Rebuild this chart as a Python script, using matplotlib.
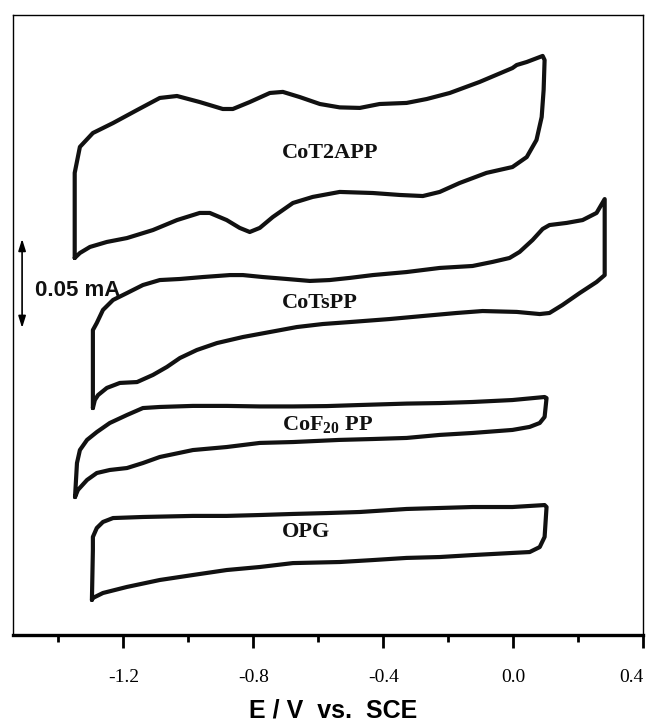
import numpy as np
import matplotlib
matplotlib.use("Agg")
import matplotlib.pyplot as plt
from matplotlib.ticker import FixedLocator

plt.rcParams['mathtext.fontset'] = 'custom'
plt.rcParams['mathtext.rm'] = 'Liberation Serif:bold'
plt.rcParams['mathtext.it'] = 'Liberation Serif:bold'
plt.rcParams['mathtext.bf'] = 'Liberation Serif:bold'

# potentials (V vs SCE) and currents (uA, stacked with offsets)
E_t2app = [-1.350, -1.350, -1.334, -1.294, -1.232, -1.158, -1.088, -1.035, -0.965, -0.894,
           -0.863, -0.811, -0.749, -0.709, -0.657, -0.595, -0.534, -0.472, -0.411, -0.328,
           -0.266, -0.195, -0.103, -0.002, 0.011, 0.042, 0.091, 0.097, 0.094, 0.088,
           0.072, 0.042, -0.002, -0.082, -0.165, -0.226, -0.278, -0.349, -0.432, -0.534,
           -0.617, -0.678, -0.740, -0.780, -0.811, -0.842, -0.882, -0.934, -0.965, -1.035,
           -1.109, -1.189, -1.251, -1.303, -1.334, -1.350]
I_t2app = [211.8, 259.6, 274.2, 282.0, 287.6, 294.9, 301.7, 302.8, 299.4, 295.5,
           295.5, 299.4, 304.5, 305.1, 302.2, 298.3, 296.4, 296.1, 298.3, 298.9,
           301.1, 304.5, 310.7, 318.5, 320.2, 321.9, 325.3, 323.0, 306.2, 291.0,
           278.1, 268.5, 262.9, 259.6, 253.9, 248.9, 246.6, 247.2, 248.3, 248.9,
           246.1, 242.7, 234.8, 228.7, 226.4, 228.7, 233.1, 237.1, 237.1, 233.1,
           227.5, 223.0, 220.8, 218.0, 214.6, 211.8]

E_tspp = [-1.294, -1.294, -1.282, -1.263, -1.232, -1.189, -1.140, -1.088, -1.026, -0.955,
          -0.872, -0.832, -0.771, -0.697, -0.626, -0.565, -0.503, -0.432, -0.328, -0.226,
          -0.125, -0.063, -0.011, 0.020, 0.060, 0.091, 0.112, 0.165, 0.214, 0.257,
          0.282, 0.282, 0.257, 0.205, 0.152, 0.112, 0.082, 0.011, -0.094, -0.174,
          -0.278, -0.380, -0.503, -0.586, -0.666, -0.749, -0.832, -0.912, -0.974, -1.026,
          -1.066, -1.109, -1.158, -1.211, -1.251, -1.278, -1.288, -1.294]
I_tspp = [127.5, 171.3, 175.3, 182.6, 188.2, 192.1, 196.6, 199.4, 200.0, 201.1,
          202.2, 202.2, 201.1, 200.0, 198.9, 199.4, 200.6, 202.2, 203.9, 206.2,
          207.3, 209.6, 211.8, 215.2, 221.9, 228.1, 230.3, 231.5, 233.1, 237.1,
          244.9, 202.2, 198.3, 192.1, 185.4, 180.9, 180.3, 181.5, 182.0, 180.9,
          179.2, 177.5, 175.8, 174.7, 173.0, 170.2, 167.4, 164.0, 160.1, 155.6,
          150.6, 146.1, 142.1, 141.6, 138.8, 134.8, 132.0, 127.5]

E_f20pp = [-1.349, -1.343, -1.334, -1.312, -1.282, -1.242, -1.189, -1.140, -1.088, -0.986,
           -0.882, -0.780, -0.678, -0.574, -0.472, -0.328, -0.226, -0.125, -0.002, 0.097,
           0.103, 0.097, 0.082, 0.051, -0.002, -0.125, -0.226, -0.328, -0.432, -0.534,
           -0.678, -0.780, -0.882, -0.986, -1.088, -1.140, -1.189, -1.242, -1.282, -1.312,
           -1.340, -1.349]
I_f20pp = [77.5, 96.6, 103.9, 109.6, 114.0, 119.1, 123.6, 127.5, 128.1, 128.7,
           128.7, 128.4, 128.4, 128.6, 129.2, 130.0, 130.3, 130.9, 132.0, 133.7,
           133.1, 122.5, 119.1, 116.9, 115.2, 113.5, 112.4, 110.7, 110.1, 109.6,
           108.4, 107.9, 105.6, 103.9, 100.0, 96.6, 93.8, 92.7, 91.0, 87.1,
           81.5, 77.5]

E_opg = [-1.297, -1.294, -1.294, -1.282, -1.263, -1.232, -1.140, -0.986, -0.882, -0.780,
         -0.678, -0.574, -0.472, -0.328, -0.125, -0.002, 0.097, 0.103, 0.097, 0.082,
         0.051, -0.002, -0.125, -0.226, -0.328, -0.432, -0.534, -0.678, -0.780, -0.882,
         -0.986, -1.088, -1.189, -1.263, -1.294, -1.297]
I_opg = [19.7, 47.8, 55.1, 60.1, 63.5, 65.7, 66.3, 66.9, 66.9, 67.4,
         68.0, 68.5, 69.1, 70.8, 71.9, 71.9, 73.0, 71.9, 55.1, 49.4,
         46.6, 46.1, 44.9, 43.8, 43.3, 42.1, 41.0, 40.4, 38.2, 36.5,
         33.7, 30.9, 27.0, 23.6, 20.8, 19.7]

curves = [(E_t2app, I_t2app), (E_tspp, I_tspp), (E_f20pp, I_f20pp), (E_opg, I_opg)]
names = ['CoT2APP', 'CoTsPP', 'CoF$_{20}$ PP', 'OPG']
name_y = [270.8, 186.5, 118.0, 57.9]

major_ticks = [-1.2, -0.8, -0.4, 0.0, 0.4]
minor_ticks = [-1.4, -1.0, -0.6, -0.2, 0.2]
tick_labels = ['-1.2', '-0.8', '-0.4', '0.0', '0.4']

scale_ua = 50.0  # 0.05 mA

fig = plt.figure(figsize=(6.48, 7.23), dpi=100)
ax = fig.add_axes([13 / 648, 88 / 723, 630 / 648, 620 / 723])

for E, I in curves:
    ax.plot(E, I, color='#111111', lw=3.0, solid_joinstyle='round', solid_capstyle='round')

for name, y in zip(names, name_y):
    ax.text(-0.712, y, name, ha='left', va='center', fontsize=16,
            family='Liberation Serif', weight='bold', color='#111111')

# scale bar
ax.annotate('', xy=(-1.512, 172.5 + scale_ua), xytext=(-1.512, 172.5),
            arrowprops=dict(arrowstyle='<|-|>,head_length=0.7,head_width=0.22',
                            lw=1.2, color='black', shrinkA=0, shrinkB=0))
ax.text(-1.472, 193.8, '0.05 mA', ha='left', va='center', fontsize=16,
        family='Liberation Sans', weight='bold', color='#111111')

ax.set_xlim(-1.54, 0.4)
ax.set_ylim(0, 348.3)
ax.set_yticks([])
ax.xaxis.set_major_locator(FixedLocator(major_ticks))
ax.xaxis.set_minor_locator(FixedLocator(minor_ticks))
ax.set_xticklabels(tick_labels, family='Liberation Serif', fontsize=14)
ax.get_xticklabels()[-1].set_horizontalalignment('right')
ax.tick_params(axis='x', which='major', direction='out', length=9.5, width=2, pad=15)
ax.tick_params(axis='x', which='minor', direction='out', length=5, width=2)

for side in ['left', 'top', 'right']:
    ax.spines[side].set_linewidth(1.0)
ax.spines['bottom'].set_linewidth(2.4)

ax.set_xlabel('E / V  vs.  SCE', family='Liberation Sans', weight='bold', fontsize=18)
ax.xaxis.set_label_coords(0.508, -0.103)

fig.savefig('out.png', dpi=100)
